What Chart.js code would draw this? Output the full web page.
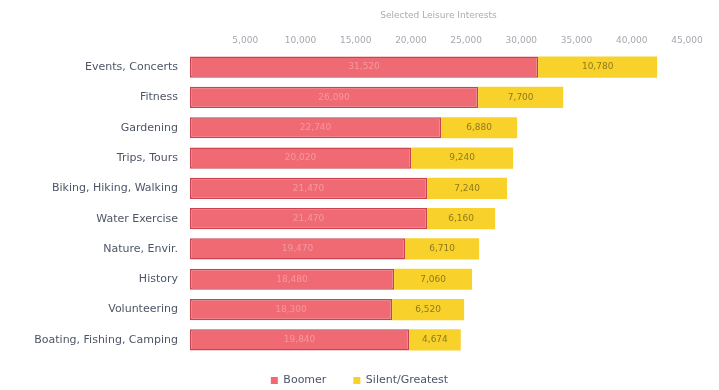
<!DOCTYPE html>
<html>
<head>
<meta charset="utf-8">
<script src="https://cdn.jsdelivr.net/npm/chart.js@4/dist/chart.umd.min.js"></script>
<style>
  html, body { margin: 0; padding: 0; background: #ffffff; }
  #wrap { width: 719px; height: 390px; }
</style>
</head>
<body>
<div id="wrap"><canvas id="c" width="719" height="390"></canvas></div>
<script>
// Activity categories, top to bottom
const categories = [
  'Events, Concerts', 'Fitness', 'Gardening', 'Trips, Tours',
  'Biking, Hiking, Walking', 'Water Exercise', 'Nature, Envir.',
  'History', 'Volunteering', 'Boating, Fishing, Camping'
];
// Participants by generation
const boomer = [31520, 26090, 22740, 20020, 21470, 21470, 19470, 18480, 18300, 19840];
const silentGreatest = [10780, 7700, 6880, 9240, 7240, 6160, 6710, 7060, 6520, 4674];
// Axis ticks shown along the top
const tickValues = [5000, 10000, 15000, 20000, 25000, 30000, 35000, 40000, 45000];
const axisTitle = 'Selected Leisure Interests';

const labelFont = '"DejaVu Sans", sans-serif';

// Writes each segment's value in the middle of its bar
const segmentLabels = {
  id: 'segmentLabels',
  afterDatasetsDraw(chart) {
    const ctx = chart.ctx;
    ctx.save();
    ctx.textAlign = 'center';
    ctx.textBaseline = 'middle';
    ctx.font = '9px ' + labelFont;
    chart.data.datasets.forEach((ds, di) => {
      const meta = chart.getDatasetMeta(di);
      meta.data.forEach((bar, i) => {
        const x = (bar.x + bar.base) / 2;
        ctx.fillStyle = di === 0 ? 'rgba(255,255,255,0.3)' : 'rgba(70,60,20,0.6)';
        ctx.fillText(ds.data[i].toLocaleString('en-US'), x, bar.y);
      });
    });
    ctx.restore();
  }
};

new Chart(document.getElementById('c'), {
  type: 'bar',
  data: {
    labels: categories,
    datasets: [
      {
        label: 'Boomer',
        data: boomer,
        backgroundColor: '#f06a74',
        borderColor: '#c9444e',
        borderWidth: 1.5,
        borderSkipped: false
      },
      {
        label: 'Silent/Greatest',
        data: silentGreatest,
        backgroundColor: '#f8d12a',
        borderWidth: 0
      }
    ]
  },
  options: {
    indexAxis: 'y',
    responsive: false,
    animation: false,
    devicePixelRatio: 1,
    layout: { padding: { top: 0, right: 0, bottom: -6, left: 0 } },
    datasets: { bar: { barPercentage: 0.7, categoryPercentage: 1.0 } },
    scales: {
      x: {
        position: 'top',
        stacked: true,
        min: 0,
        max: 45000,
        border: { display: false },
        grid: { display: false, drawTicks: false },
        afterBuildTicks(scale) {
          scale.ticks = tickValues.map(v => ({ value: v }));
        },
        // room on the right so the legend stays centred on the whole canvas
        afterFit(scale) { scale.height = 52; scale.paddingRight = 32; },
        ticks: {
          padding: 6,
          color: '#a4a8ae',
          font: { family: labelFont, size: 9 },
          callback: v => Number(v).toLocaleString('en-US')
        },
        title: {
          display: true,
          text: axisTitle,
          color: '#a8acb2',
          font: { family: labelFont, size: 9 },
          padding: { top: 10, bottom: 4 }
        }
      },
      y: {
        stacked: true,
        border: { display: false },
        grid: { display: false, drawTicks: false },
        afterFit(scale) { scale.width = 190; },
        ticks: {
          padding: 12,
          color: '#4d5566',
          font: { family: labelFont, size: 11 }
        }
      }
    },
    plugins: {
      legend: {
        position: 'bottom',
        labels: {
          boxWidth: 7,
          boxHeight: 7,
          padding: 20,
          color: '#4d5566',
          font: { family: labelFont, size: 11 },
          generateLabels(chart) {
            const items = Chart.defaults.plugins.legend.labels.generateLabels(chart);
            items.forEach(it => { it.lineWidth = 0; });
            items[0].text = items[0].text + '  ';
            return items;
          }
        }
      },
      tooltip: { enabled: false }
    }
  },
  plugins: [segmentLabels]
});
</script>
</body>
</html>
